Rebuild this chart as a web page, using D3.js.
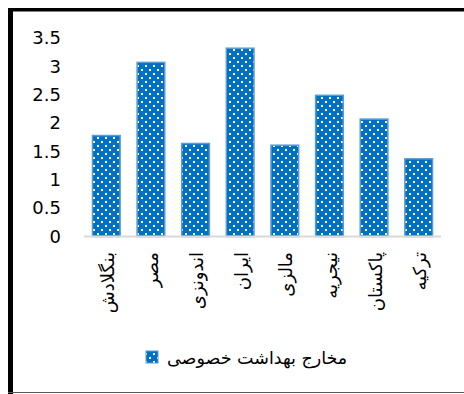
<!DOCTYPE html>
<html>
<head>
<meta charset="utf-8">
<script src="https://cdn.jsdelivr.net/npm/d3@7/dist/d3.min.js"></script>
<style>
  html, body { margin: 0; padding: 0; background: #fff; }
  svg { display: block; }
  text { font-family: "DejaVu Sans", "Liberation Sans", sans-serif; fill: #000; }
</style>
</head>
<body>
<div id="chart"></div>
<script>
// Private health expenditure by country
const categories = ["بنگلادش", "مصر", "اندونزی", "ایران", "مالزی", "نیجریه", "پاکستان", "ترکیه"];
const values = [1.78, 3.07, 1.64, 3.32, 1.61, 2.49, 2.07, 1.37];
const yTicks = [0, 0.5, 1, 1.5, 2, 2.5, 3, 3.5];
const seriesName = "مخارج بهداشت خصوصی";

const W = 464, H = 394;
const svg = d3.select("#chart").append("svg")
  .attr("width", W).attr("height", H);

// dotted fill pattern used for the bars and the legend key
const defs = svg.append("defs");
const pat = defs.append("pattern")
  .attr("id", "dots")
  .attr("patternUnits", "userSpaceOnUse")
  .attr("width", 8).attr("height", 8);
pat.append("rect").attr("width", 8).attr("height", 8).attr("fill", "#0070C0");
pat.append("rect").attr("x", 1).attr("y", 1).attr("width", 2).attr("height", 2).attr("fill", "#ffffff");
pat.append("rect").attr("x", 5).attr("y", 5).attr("width", 2).attr("height", 2).attr("fill", "#ffffff");

// frame
svg.append("rect").attr("x", 8).attr("y", 8).attr("width", 5).attr("height", H - 8).attr("fill", "#000");
svg.append("rect").attr("x", 8).attr("y", 8).attr("width", W - 8).attr("height", 3.5).attr("fill", "#000");
svg.append("line").attr("x1", 8).attr("x2", W).attr("y1", 392.5).attr("y2", 392.5)
  .attr("stroke", "#595959").attr("stroke-width", 1);

const x = d3.scaleBand().domain(categories).range([84, 441])
  .paddingInner(0.38).paddingOuter(0.19);
const y = d3.scaleLinear().domain([0, 3.5]).range([236.5, 38]);

// y axis labels only
const yAxis = svg.append("g").attr("transform", "translate(61,0)")
  .call(d3.axisLeft(y).tickValues(yTicks).tickSize(0).tickPadding(0)
    .tickFormat(d => String(d)));
yAxis.select(".domain").remove();
yAxis.selectAll("text").attr("font-size", 18)
  .style("font-family", "'DejaVu Sans', sans-serif").attr("fill", "#000");

// bars
svg.append("g").selectAll("rect").data(values).join("rect")
  .attr("x", (d, i) => x(categories[i]))
  .attr("y", d => y(d))
  .attr("width", x.bandwidth())
  .attr("height", d => y(0) - y(d))
  .attr("fill", "url(#dots)")
  .attr("stroke", "#5B9BD5")
  .attr("stroke-width", 1.5);

// category axis line
svg.append("line").attr("x1", 84).attr("x2", 441)
  .attr("y1", y(0)).attr("y2", y(0))
  .attr("stroke", "#d9d9d9").attr("stroke-width", 2);

// rotated category labels
svg.append("g").selectAll("text").data(categories).join("text")
  .attr("transform", d => `translate(${x(d) + x.bandwidth() / 2 + 1},252) rotate(-90)`)
  .attr("direction", "rtl")
  .attr("text-anchor", "start")
  .attr("dominant-baseline", "central")
  .attr("font-size", 18)
  .text(d => d);

// legend
svg.append("rect").attr("x", 146).attr("y", 351).attr("width", 12).attr("height", 12)
  .attr("fill", "url(#dots)").attr("stroke", "#5B9BD5").attr("stroke-width", 1);
svg.append("text").attr("x", 167).attr("y", 358)
  .attr("direction", "rtl").attr("text-anchor", "end")
  .attr("dominant-baseline", "central")
  .attr("font-size", 17.5)
  .text(seriesName);
</script>
</body>
</html>
